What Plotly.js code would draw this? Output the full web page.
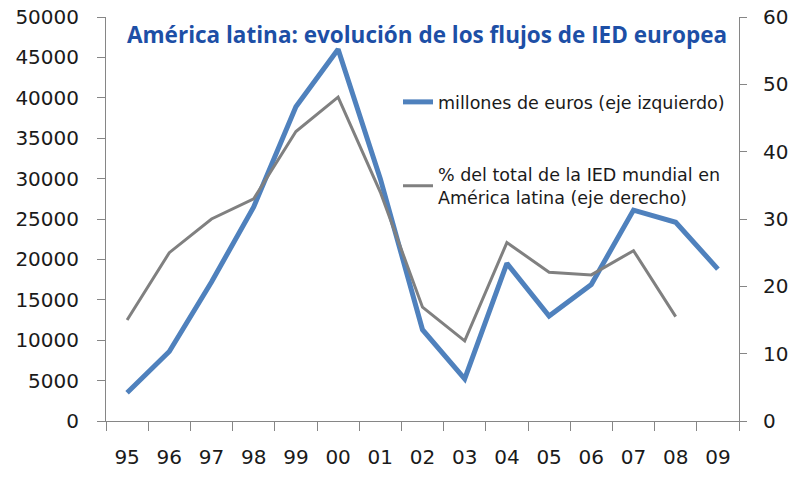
<!DOCTYPE html>
<html><head><meta charset="utf-8">
<script src="https://cdn.plot.ly/plotly-3.0.1.min.js"></script>
<style>html,body{margin:0;padding:0;background:#fff}</style>
</head><body>
<div id="chart" style="width:791px;height:479px"></div>
<script>
const years = ['95','96','97','98','99','00','01','02','03','04','05','06','07','08','09'];
const eurosMillones = [3500, 8600, 17200, 26500, 38900, 46000, 30000, 11300, 5200, 19500, 13000, 16900, 26100, 24600, 18800];
const pctMundial = [15.0, 25.0, 30.0, 33.0, 43.0, 48.1, 34.0, 16.9, 11.9, 26.5, 22.1, 21.7, 25.3, 15.5, null];
const nameEuros = 'millones de euros (eje izquierdo)';
const namePct = '% del total de la IED mundial en<br>América latina (eje derecho)';
const titleText = 'América latina: evolución de los flujos de IED europea';

const axisColor = '#868686';
const tickFont = {family: 'DejaVu Sans', size: 20, color: '#1a1a1a'};
const legendFont = {family: 'DejaVu Sans', size: 17.5, color: '#1a1a1a'};

const traces = [
  {x: years, y: eurosMillones, type: 'scatter', mode: 'lines', name: nameEuros,
   line: {color: '#4F81BD', width: 5}, yaxis: 'y', legend: 'legend'},
  {x: years, y: pctMundial, type: 'scatter', mode: 'lines', name: namePct,
   line: {color: '#808080', width: 3}, yaxis: 'y2', legend: 'legend2', connectgaps: false}
];

const layout = {
  width: 791, height: 479,
  margin: {l: 106, r: 52, t: 17, b: 58},
  paper_bgcolor: '#fff', plot_bgcolor: '#fff',
  title: {text: titleText, font: {family: 'Open Sans', size: 22.5, color: '#1D4FA6', weight: 'bold'},
          xref: 'container', x: 127/791, xanchor: 'left', yref: 'container', y: 1 - 35/479, yanchor: 'middle'},
  xaxis: {type: 'category', showgrid: false, showline: true, linecolor: axisColor, linewidth: 1,
          ticks: 'outside', tickson: 'boundaries', ticklen: 9, tickcolor: axisColor, tickwidth: 1,
          tickfont: tickFont, ticklabelstandoff: 18, zeroline: false, range: [-0.5, 14.5]},
  yaxis: {range: [0, 50000], dtick: 5000, tick0: 0, tickformat: 'd', showgrid: false, showline: true, linecolor: axisColor,
          ticks: 'outside', ticklen: 8, tickcolor: axisColor, tickfont: tickFont, zeroline: false,
          ticklabelstandoff: 14},
  yaxis2: {range: [0, 60], dtick: 10, tick0: 0, overlaying: 'y', side: 'right', showgrid: false,
           showline: true, linecolor: axisColor, ticks: 'outside', ticklen: 7, tickcolor: axisColor,
           tickfont: tickFont, zeroline: false, ticklabelstandoff: 12},
  legend: {x: (398-106)/633, xanchor: 'left', y: (421-102)/404, yanchor: 'middle', bgcolor: 'rgba(0,0,0,0)',
           font: legendFont},
  legend2: {x: (398-106)/633, xanchor: 'left', y: (421-186)/404, yanchor: 'middle', bgcolor: 'rgba(0,0,0,0)',
           font: legendFont},
  showlegend: true
};

Plotly.newPlot('chart', traces, layout, {displayModeBar: false, staticPlot: true});
</script>
</body></html>
